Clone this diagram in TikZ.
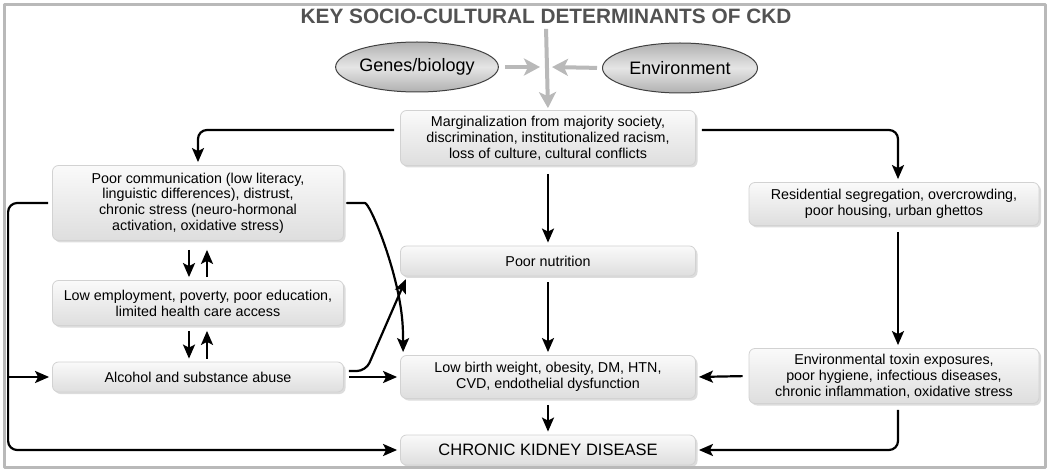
\documentclass[tikz,border=0pt]{standalone}
\usepackage{fontspec}
\setmainfont{Liberation Sans}
\usetikzlibrary{arrows.meta,shadows,shapes.geometric,calc}
\tikzset{
  box/.style={rounded corners=6pt, draw=gray!35, line width=.8pt,
    top color=gray!4, bottom color=gray!26, align=center, inner sep=2pt,
    drop shadow={shadow xshift=2pt, shadow yshift=-2pt, fill=gray!55},
    font=\fontsize{14.3}{15.8}\selectfont},
  oval/.style={ellipse, draw=black!75, line width=1pt, inner sep=0pt,
    top color=gray!62, bottom color=gray!62, middle color=gray!20,
    font=\fontsize{18}{20}\selectfont},
  link/.style={-{Stealth[length=14pt,width=12pt,inset=3pt]}, line width=2.2pt,
    rounded corners=9pt, shorten <=6pt, shorten >=3pt},
  glink/.style={-{Stealth[length=16pt,width=17pt,inset=4pt]}, draw=gray!55,
    line width=4pt, shorten >=2pt},
}
\begin{document}
\begin{tikzpicture}[x=1pt, y=-1pt, line join=round]
  \useasboundingbox (0,0) rectangle (1050,473);
  \draw[gray!55, line width=3pt] (4,5) rectangle (1045,467);
  % title and origins
  \node[font=\bfseries\fontsize{20.8}{22}\selectfont, text=black!68] (title) at (546,16)
    {KEY SOCIO-CULTURAL DETERMINANTS OF CKD};
  \node[oval, minimum width=156pt, minimum height=50pt] (gen) at (417,67) {Genes/biology};
  \node[oval, minimum width=155pt, minimum height=50pt] (env) at (680,68) {Environment};
  % boxes
  \node[box, minimum width=295pt, minimum height=55pt] (marg) at (548,138)
    {Marginalization from majority society,\\ discrimination, institutionalized racism,\\ loss of culture, cultural conflicts};
  \node[box, minimum width=291pt, minimum height=75pt] (comm) at (198,203)
    {Poor communication (low literacy,\\ linguistic differences), distrust,\\ chronic stress (neuro-hormonal\\ activation, oxidative stress)};
  \node[box, minimum width=291pt, minimum height=45pt] (empl) at (198,303)
    {Low employment, poverty, poor education,\\ limited health care access};
  \node[box, minimum width=291pt, minimum height=30pt] (alc) at (198,377)
    {Alcohol and substance abuse};
  \node[box, minimum width=295pt, minimum height=30pt] (nutr) at (548,261)
    {Poor nutrition};
  \node[box, minimum width=295pt, minimum height=43pt] (lbw) at (548,377)
    {Low birth weight, obesity, DM, HTN,\\ CVD, endothelial dysfunction};
  \node[box, minimum width=295pt, minimum height=30pt, font=\fontsize{16.5}{18}\selectfont] (ckd) at (548,450)
    {CHRONIC KIDNEY DISEASE};
  \node[box, minimum width=290pt, minimum height=43pt] (resid) at (894,204)
    {Residential segregation, overcrowding,\\ poor housing, urban ghettos};
  \node[box, minimum width=290pt, minimum height=55pt] (toxin) at (894,376)
    {Environmental toxin exposures,\\ poor hygiene, infectious diseases,\\ chronic inflammation, oxidative stress};
  % gray arrows
  \coordinate (cross) at (title.south |- gen.east);
  \draw[glink, shorten <=2pt] (title.south) -- (marg.north);
  \draw[glink, shorten <=6pt] (gen.east) -- ([xshift=-4pt]cross);
  \draw[glink, shorten <=5pt] (env.west) -- ([xshift=4pt]cross);
  % black arrows
  \draw[link] ([yshift=8pt]marg.west) -| (comm.north);
  \draw[link] ([yshift=8pt]marg.east) -| ([xshift=4pt]resid.north);
  \draw[link, shorten <=8pt] (marg.south) -- (nutr.north);
  \draw[link] (nutr.south) -- (lbw.north);
  \draw[link] (lbw.south) -- (ckd.north);
  \draw[link] ([xshift=4pt]resid.south) -- ([xshift=4pt]toxin.north);
  \draw[link] (toxin.west) -- (lbw.east);
  \draw[link] ([xshift=4pt]toxin.south) |- (ckd.east);
  \draw[link, shorten <=9pt] ([xshift=-9pt]comm.south) -- ([xshift=-9pt]empl.north);
  \draw[link, shorten <=3pt, shorten >=9pt] ([xshift=9pt]empl.north) -- ([xshift=9pt]comm.south);
  \draw[link, shorten <=5pt] ([xshift=-9pt]empl.south) -- ([xshift=-9pt]alc.north);
  \draw[link, shorten <=3pt, shorten >=5pt] ([xshift=9pt]alc.north) -- ([xshift=9pt]empl.south);
  \draw[link, shorten <=4pt] (comm.west) -- ++(-44,0) |- (ckd.west);
  \coordinate (bus) at ($(alc.west)+(-44,0)$);
  \draw[link, shorten <=0pt] (bus) -- (alc.west);
  \draw[link, shorten <=5pt] (comm.east) -- ++(12,0)
    .. controls +(14,0) and +(-5,-60) .. ($(lbw.north west)+(3,-25)$) -- ([xshift=3pt]lbw.north west);
  \draw[link, shorten <=5pt] ([yshift=6pt]alc.east) -- ++(22,0) -- ([xshift=7pt]nutr.south west);
  \draw[link, shorten <=5pt] (alc.east) -- (lbw.west);
\end{tikzpicture}
\end{document}
